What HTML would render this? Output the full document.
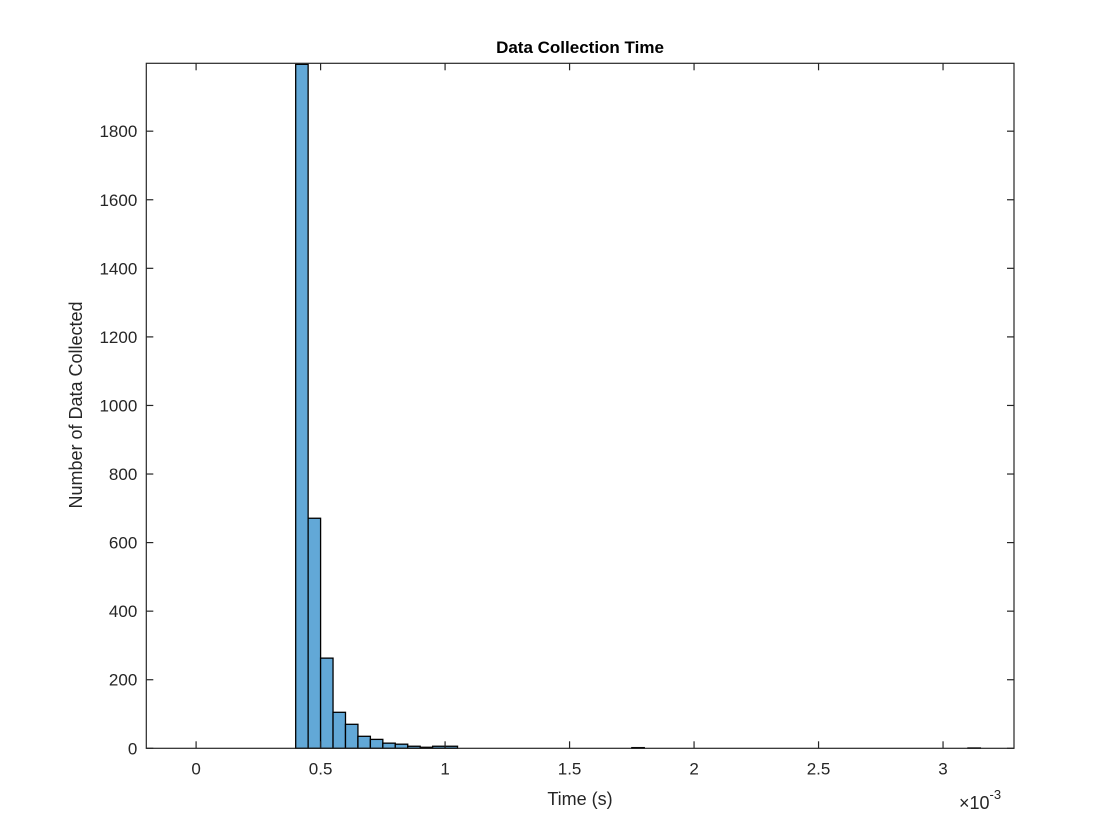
<!DOCTYPE html>
<html><head><meta charset="utf-8"><style>
body{margin:0;background:#fff;}
svg{display:block;font-family:"Liberation Sans",Arial,sans-serif;}
</style></head><body>
<svg id="chart" width="1120" height="840">
<rect x="0" y="0" width="1120" height="840" fill="#fff"/>
<text x="580" y="53" text-anchor="middle" font-size="17" font-weight="bold" fill="#000">Data Collection Time</text>
<text x="580" y="805" text-anchor="middle" font-size="18" fill="#262626">Time (s)</text>
<text transform="translate(82,405) rotate(-90)" text-anchor="middle" font-size="18" fill="#262626">Number of Data Collected</text>
<text x="959" y="809" font-size="18" fill="#262626">×10<tspan dy="-10" font-size="13">-3</tspan></text>
<g id="bars"></g>
<g id="axes"></g>
</svg>
<script>
const binStart = 0.4;
const binWidth = 0.05;
const counts = [1995,671,263,105,70,35,26,15,12,6,3,6,6,0,0,0,0,0,0,0,0,0,0,0,0,0,0,2,0,0,0,0,0,0,0,0,0,0,0,0,0,0,0,0,0,0,0,0,0,0,0,0,0,0,1];
const xTicks = [0,0.5,1,1.5,2,2.5,3];
const xTickLabels = ["0","0.5","1","1.5","2","2.5","3"];
const yTicks = [0,200,400,600,800,1000,1200,1400,1600,1800];

const L=146.3,R=1014,T=63.3,B=748.3;
const xMin=-0.2,xMax=3.285,yMin=0,yMax=1998;
const xs=v=>L+(v-xMin)/(xMax-xMin)*(R-L);
const ys=v=>B-(v-yMin)/(yMax-yMin)*(B-T);
const NS="http://www.w3.org/2000/svg";
const bars=document.getElementById('bars');
const axes=document.getElementById('axes');
function mk(t,a,p){const e=document.createElementNS(NS,t);for(const k in a)e.setAttribute(k,a[k]);p.appendChild(e);return e;}
counts.forEach((c,i)=>{
  if(c<=0) return;
  const x0=xs(binStart+i*binWidth),x1=xs(binStart+(i+1)*binWidth);
  const r=mk('rect',{x:x0,y:ys(c),width:x1-x0,height:ys(0)-ys(c),fill:'#62a8d7',stroke:'#000','stroke-width':1.3},bars);
  
  
});
const box=mk('rect',{x:L,y:T,width:R-L,height:B-T,fill:'none',stroke:'#262626','stroke-width':1.2},axes);


xTicks.forEach((v,i)=>{
  const x=xs(v);
  mk('line',{x1:x,x2:x,y1:B,y2:B-7,stroke:'#262626','stroke-width':1.2},axes);
  mk('line',{x1:x,x2:x,y1:T,y2:T+7,stroke:'#262626','stroke-width':1.2},axes);
  const t=mk('text',{x:x,y:B+26,'text-anchor':'middle','font-size':17,fill:'#262626'},axes);
  t.textContent=xTickLabels[i];
  
  
});
yTicks.forEach(v=>{
  const y=ys(v);
  mk('line',{x1:L,x2:L+7,y1:y,y2:y,stroke:'#262626','stroke-width':1.2},axes);
  mk('line',{x1:R,x2:R-7,y1:y,y2:y,stroke:'#262626','stroke-width':1.2},axes);
  const t=mk('text',{x:L-9,y:y+6,'text-anchor':'end','font-size':17,fill:'#262626'},axes);
  t.textContent=String(v);
  
  
});
</script>
</body></html>
